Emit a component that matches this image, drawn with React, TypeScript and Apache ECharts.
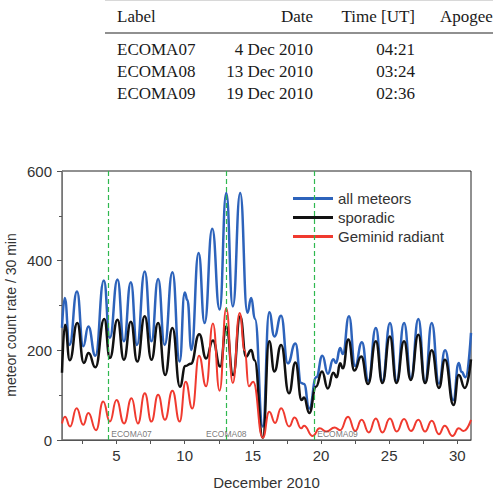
import React, { useEffect, useRef } from "react";
import * as echarts from "echarts";

// Table of rocket launches shown above the chart
const tableHeaders = ["Label", "Date", "Time [UT]", "Apogee"];
const tableLabels = ["ECOMA07", "ECOMA08", "ECOMA09"];
const tableDates = ["4 Dec 2010", "13 Dec 2010", "19 Dec 2010"];
const tableTimes = ["04:21", "03:24", "02:36"];

// Launch markers on the time axis (day of December 2010)
const launchNames = ["ECOMA07", "ECOMA08", "ECOMA09"];
const launchDays = [4.39, 13.05, 19.5];

// Axis ticks and titles
const xLabelValues = [5, 10, 15, 20, 25, 30];
const xTickValues = [2.5, 5, 7.5, 10, 12.5, 15, 17.5, 20, 22.5, 25, 27.5, 30];
const xTitle = "December 2010";
const yTitle = "meteor count rate / 30 min";

// Meteor count rate per 30 min: [day, count]
const allMeteors: [number, number][] = [
  [1.0, 250], [1.2, 317], [1.55, 212], [2.1, 331], [2.56, 209], [2.93, 253], [3.45, 188],
  [4.07, 356], [4.51, 228], [5.07, 358], [5.54, 220], [6.05, 352], [6.5, 212],
  [7.07, 376], [7.56, 220], [8.05, 359], [8.53, 212], [9.1, 374], [9.63, 175],
  [10.0, 329], [10.2, 312], [10.49, 201], [11.02, 417], [11.46, 261], [12.02, 471],
  [12.56, 291], [13.05, 551], [13.53, 298], [14.07, 551], [14.6, 284], [14.88, 317],
  [15.15, 270], [15.73, 30], [16.2, 285], [16.58, 231], [17.07, 277], [17.56, 171],
  [18.12, 215], [18.55, 127], [18.75, 125], [19.14, 70], [19.65, 140], [20.1, 188],
  [20.5, 148], [20.9, 180], [21.1, 172], [21.4, 205], [21.6, 192], [22.05, 276],
  [22.5, 165], [23.0, 218], [23.47, 132], [24.02, 250], [24.5, 132], [25.06, 261],
  [25.55, 132], [26.09, 261], [26.6, 138], [27.14, 270], [27.63, 128], [28.12, 261],
  [28.65, 126], [29.1, 200], [29.7, 89], [30.1, 172], [30.3, 152], [30.6, 140], [31.0, 239],
];

const sporadic: [number, number][] = [
  [1.0, 150], [1.22, 257], [1.57, 178], [2.12, 261], [2.6, 172], [2.95, 194], [3.45, 162],
  [4.1, 270], [4.51, 183], [5.07, 268], [5.54, 179], [6.05, 264], [6.52, 175],
  [7.07, 276], [7.56, 179], [8.05, 261], [8.57, 145], [9.1, 250], [9.65, 119],
  [10.05, 165], [10.45, 170], [11.07, 236], [11.57, 182], [12.07, 222], [12.6, 164],
  [13.05, 253], [13.55, 145], [14.07, 276], [14.5, 186], [14.88, 201], [15.12, 178],
  [15.73, 5], [16.2, 220], [16.58, 153], [17.07, 212], [17.65, 104], [18.12, 173],
  [18.58, 89], [18.75, 95], [19.14, 60], [19.63, 119], [20.07, 153], [20.5, 115],
  [20.9, 150], [21.15, 140], [21.4, 171], [21.6, 160], [22.0, 224], [22.45, 155],
  [22.95, 186], [23.45, 125], [24.02, 220], [24.5, 127], [25.05, 231], [25.53, 127],
  [26.09, 220], [26.58, 134], [27.14, 235], [27.63, 127], [28.12, 200], [28.65, 116],
  [29.09, 179], [29.72, 78], [30.1, 145], [30.55, 116], [31.0, 180],
];

const geminid: [number, number][] = [
  [1.0, 37], [1.22, 52], [1.59, 30], [2.07, 71], [2.56, 34], [2.93, 60], [3.5, 22],
  [4.02, 86], [4.51, 41], [5.0, 89], [5.55, 37], [6.1, 93], [6.57, 37], [7.07, 104],
  [7.56, 41], [8.05, 101], [8.55, 45], [9.1, 110], [9.63, 41], [10.07, 130],
  [10.56, 70], [11.05, 188], [11.57, 120], [12.07, 260], [12.56, 110], [13.05, 294],
  [13.53, 127], [14.03, 283], [14.4, 200], [14.7, 120], [15.02, 130], [15.73, 5],
  [16.2, 63], [16.63, 38], [17.07, 71], [17.66, 30], [18.06, 50], [18.55, 26],
  [18.75, 32], [19.39, 9], [19.9, 26], [20.4, 19], [21.0, 28], [21.4, 22], [21.98, 52],
  [22.5, 20], [22.98, 45], [23.5, 17], [24.02, 48], [24.5, 17], [25.05, 48],
  [25.55, 19], [26.09, 47], [26.6, 20], [27.14, 45], [27.63, 19], [28.12, 43],
  [28.65, 13], [29.07, 32], [29.65, 9], [30.1, 26], [30.45, 20], [31.0, 45],
];

const SANS = "'Liberation Sans', Arial, sans-serif";
const SERIF = "'Liberation Serif', 'Times New Roman', serif";

function buildTable(): any[] {
  const els: any[] = [];
  const textStyle = (x: number, y: number, text: string, align: string) => ({
    type: "text",
    x,
    y,
    style: {
      text,
      fill: "#1a1a1a",
      font: `17px ${SERIF}`,
      textAlign: align,
      textVerticalAlign: "middle",
    },
  });
  // column anchors
  const colX = [117, 313, 415, 440];
  const colAlign = ["left", "right", "right", "left"];
  tableHeaders.forEach((h, i) => els.push(textStyle(colX[i], 16, h, colAlign[i])));
  els.push({
    type: "line",
    shape: { x1: 105, y1: 33, x2: 493, y2: 33 },
    style: { stroke: "#222", lineWidth: 1.2 },
  });
  els.push({
    type: "line",
    shape: { x1: 105, y1: 0.5, x2: 493, y2: 0.5 },
    style: { stroke: "#d8d8d8", lineWidth: 1 },
  });
  const rowY = [49, 71, 93];
  tableLabels.forEach((lab, r) => {
    els.push(textStyle(colX[0], rowY[r], lab, "left"));
    els.push(textStyle(colX[1], rowY[r], tableDates[r], "right"));
    els.push(textStyle(colX[2], rowY[r], tableTimes[r], "right"));
  });
  // vertical title of the value axis
  els.push({
    type: "text",
    x: 11,
    y: 315,
    rotation: Math.PI / 2,
    style: {
      text: yTitle,
      fill: "#333",
      font: `14px ${SANS}`,
      textAlign: "center",
      textVerticalAlign: "middle",
    },
  });
  return els;
}

export default function App() {
  const ref = useRef<HTMLDivElement>(null);

  useEffect(() => {
    if (!ref.current) return;
    const chart = echarts.init(ref.current, null, { renderer: "svg" });

    const launchLabelStyle = (i: number) =>
      i === 1
        ? { position: [0, -11], align: "center" }
        : { position: [3, -11], align: "left" };

    const lineSeries = (name: string, data: [number, number][], color: string, width: number) => ({
      name,
      type: "line",
      data,
      symbol: "none",
      showSymbol: false,
      smooth: 0.5,
      smoothMonotone: "x",
      lineStyle: { color, width },
      itemStyle: { color },
      z: 2,
    });

    chart.setOption({
      animation: false,
      backgroundColor: "#ffffff",
      textStyle: { fontFamily: SANS },
      graphic: buildTable(),
      grid: {
        left: 62,
        top: 171,
        width: 409,
        height: 269,
        show: true,
        borderColor: "#222",
        borderWidth: 1,
        backgroundColor: "transparent",
      },
      legend: {
        orient: "vertical",
        left: 288,
        top: 186,
        icon: "rect",
        itemWidth: 40,
        itemHeight: 3,
        itemGap: 4,
        textStyle: { fontSize: 15, color: "#333", fontFamily: SANS, lineHeight: 15 },
        data: ["all meteors", "sporadic", "Geminid radiant"],
      },
      xAxis: {
        type: "value",
        min: 1,
        max: 31,
        name: xTitle,
        nameLocation: "middle",
        nameGap: 35,
        nameTextStyle: { fontSize: 15, color: "#333", fontFamily: SANS },
        axisLine: { lineStyle: { color: "#555", width: 1 } },
        axisTick: {
          customValues: xTickValues,
          inside: false,
          length: 4,
          lineStyle: { color: "#555" },
        },
        axisLabel: {
          customValues: xLabelValues,
          fontSize: 15,
          color: "#333",
          margin: 8,
          fontFamily: SANS,
        },
        splitLine: { show: false },
      },
      yAxis: {
        type: "value",
        min: 0,
        max: 600,
        interval: 200,
        axisLine: { show: true, lineStyle: { color: "#777", width: 1 } },
        axisTick: { show: true, inside: false, length: 5, lineStyle: { color: "#555" } },
        minorTick: { show: true, splitNumber: 2, length: 3, lineStyle: { color: "#555" } },
        axisLabel: { fontSize: 15, color: "#333", margin: 10, fontFamily: SANS },
        splitLine: { show: false },
        minorSplitLine: { show: false },
      },
      series: [
        lineSeries("all meteors", allMeteors, "#2d63bb", 2.5),
        lineSeries("sporadic", sporadic, "#111111", 2.5),
        lineSeries("Geminid radiant", geminid, "#f03a2f", 2),
        {
          name: "launches",
          type: "scatter",
          symbolSize: 0,
          silent: true,
          z: 5,
          data: launchDays.map((d, i) => ({
            value: [d, 0],
            name: launchNames[i],
            label: launchLabelStyle(i),
          })),
          label: {
            show: true,
            formatter: "{b}",
            fontSize: 8.5,
            color: "#555",
            fontFamily: SANS,
          },
          markLine: {
            silent: true,
            symbol: ["none", "none"],
            label: { show: false },
            lineStyle: { type: [5, 3], color: "#2fb84f", width: 1.2 },
            data: launchDays.map((d) => ({ xAxis: d })),
          },
        },
      ],
    });

    return () => chart.dispose();
  }, []);

  return (
    <div
      ref={ref}
      style={{ position: "fixed", left: 0, top: 0, width: 493, height: 495, background: "#fff" }}
    />
  );
}
